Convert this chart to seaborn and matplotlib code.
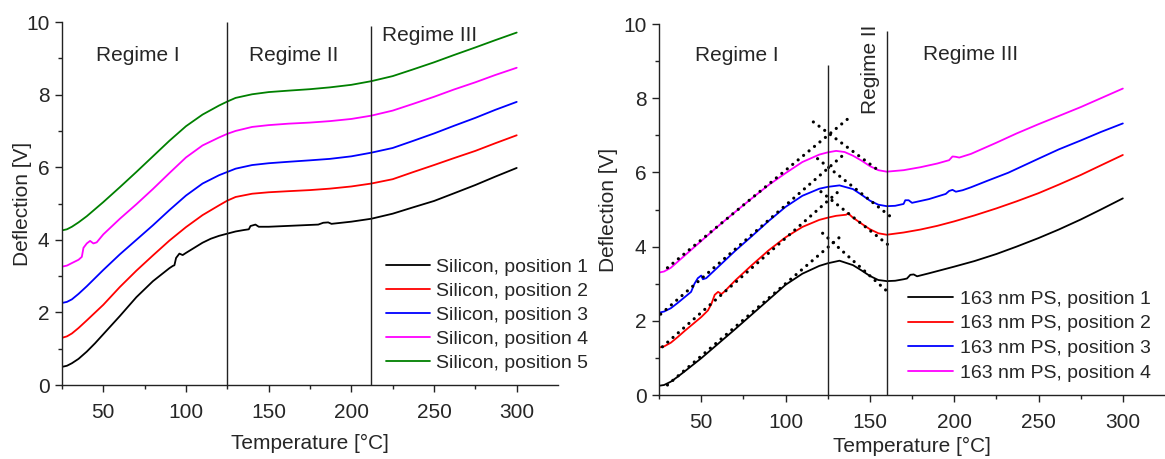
import matplotlib
matplotlib.use("Agg")
import matplotlib.pyplot as plt
import seaborn as sns
import pandas as pd
from matplotlib.ticker import MultipleLocator, FixedLocator

# ---------------- Left panel data (Silicon) ----------------
si_labels = ["Silicon, position 1", "Silicon, position 2", "Silicon, position 3",
             "Silicon, position 4", "Silicon, position 5"]
si1_t = [25, 28, 31, 35, 40, 45, 50, 55, 60, 65, 70, 75, 80, 85, 90, 92, 93, 94, 96, 98, 100,
         105, 110, 115, 120, 125, 130, 135, 138, 139, 142, 144, 150, 160, 170, 180, 183, 186,
         188, 200, 212, 225, 237, 250, 262, 275, 287, 300]
si1_v = [0.50, 0.53, 0.60, 0.72, 0.92, 1.15, 1.40, 1.65, 1.90, 2.16, 2.42, 2.64, 2.86, 3.04,
         3.22, 3.28, 3.30, 3.50, 3.62, 3.58, 3.64, 3.78, 3.92, 4.03, 4.11, 4.17, 4.23, 4.27,
         4.29, 4.38, 4.42, 4.36, 4.36, 4.38, 4.40, 4.42, 4.47, 4.48, 4.44, 4.50, 4.58, 4.72,
         4.89, 5.07, 5.28, 5.51, 5.74, 5.98]
si2_t = [25, 28, 31, 35, 40, 50, 60, 70, 80, 90, 100, 110, 120, 125, 130, 140, 150, 162, 175,
         187, 200, 212, 225, 237, 250, 262, 275, 287, 300]
si2_v = [1.30, 1.34, 1.42, 1.57, 1.78, 2.21, 2.70, 3.15, 3.57, 3.98, 4.35, 4.68, 4.95, 5.08,
         5.18, 5.27, 5.31, 5.34, 5.37, 5.41, 5.47, 5.55, 5.67, 5.86, 6.06, 6.25, 6.45, 6.66,
         6.88]
si3_t = [25, 28, 31, 35, 40, 50, 60, 70, 80, 90, 100, 110, 120, 125, 130, 140, 150, 162, 175,
         187, 200, 212, 225, 237, 250, 262, 275, 287, 300]
si3_v = [2.26, 2.29, 2.36, 2.51, 2.72, 3.17, 3.60, 4.00, 4.40, 4.82, 5.22, 5.55, 5.78, 5.87,
         5.96, 6.06, 6.11, 6.15, 6.19, 6.23, 6.30, 6.40, 6.53, 6.72, 6.93, 7.14, 7.36, 7.58,
         7.80]
si4_t = [25, 28, 31, 35, 37, 38, 40, 42, 44, 46, 50, 60, 70, 80, 90, 100, 110, 120, 125, 130,
         140, 150, 162, 175, 187, 200, 212, 225, 237, 250, 262, 275, 287, 300]
si4_v = [3.26, 3.29, 3.36, 3.45, 3.53, 3.78, 3.90, 3.97, 3.90, 3.93, 4.15, 4.58, 4.98, 5.40,
         5.84, 6.27, 6.60, 6.82, 6.92, 7.00, 7.11, 7.16, 7.20, 7.23, 7.27, 7.33, 7.42, 7.56,
         7.74, 7.94, 8.14, 8.34, 8.54, 8.74]
si5_t = [25, 28, 31, 35, 40, 50, 60, 70, 80, 90, 100, 110, 120, 125, 130, 140, 150, 162, 175,
         187, 200, 212, 225, 237, 250, 262, 275, 287, 300]
si5_v = [4.26, 4.29, 4.36, 4.48, 4.65, 5.04, 5.45, 5.87, 6.30, 6.73, 7.13, 7.45, 7.70, 7.81,
         7.91, 8.01, 8.07, 8.11, 8.15, 8.20, 8.27, 8.37, 8.51, 8.69, 8.89, 9.09, 9.30, 9.50,
         9.71]
si_colors = ["#000000", "#FF0000", "#0000FF", "#FF00FF", "#008000"]
si_bounds = [125, 212]
si_bound_tops = [10.0, 9.9]
si_regimes = ["Regime I", "Regime II", "Regime III"]
si_regime_x = [71, 165, 247.5]
si_regime_y = [9.09, 9.07, 9.64]

# ---------------- Right panel data (163 nm PS) ----------------
ps_labels = ["163 nm PS, position 1", "163 nm PS, position 2", "163 nm PS, position 3",
             "163 nm PS, position 4"]
ps1_t = [25, 28, 32, 36, 40, 50, 60, 70, 80, 90, 100, 110, 120, 125, 132, 140, 145, 150, 155,
         160, 165, 170, 172, 174, 176, 178, 185, 200, 212, 225, 237, 250, 262, 275, 287, 300]
ps1_v = [0.25, 0.27, 0.36, 0.49, 0.63, 0.99, 1.38, 1.77, 2.17, 2.57, 2.97, 3.27, 3.48, 3.55,
         3.62, 3.50, 3.36, 3.21, 3.10, 3.07, 3.08, 3.12, 3.14, 3.24, 3.25, 3.20, 3.28, 3.46,
         3.61, 3.80, 4.00, 4.23, 4.46, 4.73, 5.00, 5.30]
ps2_t = [25, 28, 32, 36, 40, 50, 54, 56, 58, 60, 62, 64, 70, 80, 90, 100, 110, 120, 125, 130,
         136, 137, 140, 145, 150, 155, 160, 170, 180, 190, 200, 212, 225, 237, 250, 262, 275,
         287, 300]
ps2_v = [1.28, 1.31, 1.41, 1.56, 1.72, 2.10, 2.28, 2.45, 2.70, 2.78, 2.72, 2.80, 3.08, 3.50,
         3.90, 4.25, 4.53, 4.72, 4.78, 4.83, 4.86, 4.90, 4.78, 4.62, 4.47, 4.36, 4.32, 4.38,
         4.46, 4.56, 4.68, 4.84, 5.03, 5.22, 5.44, 5.67, 5.93, 6.19, 6.47]
ps3_t = [25, 28, 32, 36, 40, 44, 46, 48, 50, 51, 53, 60, 70, 80, 90, 100, 110, 120, 125, 132,
         140, 145, 150, 155, 160, 165, 170, 171, 173, 175, 185, 195, 197, 199, 201, 205, 210,
         220, 232, 241, 250, 262, 275, 287, 300]
ps3_v = [2.22, 2.25, 2.34, 2.48, 2.63, 2.78, 3.00, 3.15, 3.22, 3.12, 3.15, 3.45, 3.88, 4.28,
         4.69, 5.07, 5.37, 5.56, 5.61, 5.65, 5.55, 5.40, 5.24, 5.13, 5.09, 5.10, 5.15, 5.25,
         5.25, 5.18, 5.28, 5.42, 5.50, 5.53, 5.48, 5.52, 5.60, 5.78, 5.99, 6.18, 6.37, 6.62,
         6.86, 7.09, 7.32]
ps4_t = [25, 28, 32, 36, 40, 50, 60, 70, 80, 90, 100, 110, 120, 125, 130, 135, 140, 145, 150,
         155, 160, 170, 180, 190, 197, 199, 201, 203, 210, 218, 225, 237, 250, 262, 275, 287,
         300]
ps4_v = [3.30, 3.33, 3.43, 3.59, 3.75, 4.15, 4.55, 4.93, 5.30, 5.66, 5.98, 6.28, 6.48, 6.54,
         6.58, 6.55, 6.45, 6.32, 6.17, 6.06, 6.02, 6.06, 6.14, 6.24, 6.33, 6.43, 6.42, 6.40,
         6.50, 6.66, 6.80, 7.05, 7.30, 7.52, 7.76, 8.00, 8.26]
ps_colors = ["#000000", "#FF0000", "#0000FF", "#FF00FF"]
# linear fits (dotted): regime I rising, regime II falling
fitI_x0 = [30, 27, 26, 30]
fitI_y0 = [0.27, 1.30, 2.18, 3.43]
fitI_x1 = [132, 133, 135, 139]
fitI_y1 = [4.25, 5.55, 6.50, 7.52]
fitII_x0 = [122, 121, 119, 116.5]
fitII_y0 = [4.36, 5.48, 6.37, 7.36]
fitII_x1 = [160.6, 161.6, 162.5, 156.7]
fitII_y1 = [2.78, 4.02, 4.80, 6.00]
ps_bounds = [125, 160]
ps_bound_tops = [8.9, 9.8]
ps_regimes = ["Regime I", "Regime III"]
ps_regime_x = [71, 209.6]
ps_regime_y = [9.15, 9.17]
ps_regime2 = "Regime II"
ps_regime2_x = 150.6
ps_regime2_y = 8.78

xlabel = "Temperature [°C]"
ylabel = "Deflection [V]"

# ---------------- Plot ----------------
sns.set_style("ticks")
plt.rcParams["font.family"] = ["Liberation Sans", "DejaVu Sans"]
FS = 15
LFS = 14

fig = plt.figure(figsize=(11.65, 4.59), dpi=100)
axL = fig.add_axes([0.0532, 0.1612, 0.4258, 0.7908])
axR = fig.add_axes([0.5657, 0.1394, 0.4343, 0.8083])


def build_df(ts, vs, labels):
    frames = []
    for t, v, lab in zip(ts, vs, labels):
        frames.append(pd.DataFrame({"T": t, "V": v, "series": lab}))
    return pd.concat(frames, ignore_index=True)


dfL = build_df([si1_t, si2_t, si3_t, si4_t, si5_t],
               [si1_v, si2_v, si3_v, si4_v, si5_v], si_labels)
dfR = build_df([ps1_t, ps2_t, ps3_t, ps4_t],
               [ps1_v, ps2_v, ps3_v, ps4_v], ps_labels)


def style_axes(ax):
    ax.set_xlim(25, 325)
    ax.set_ylim(0, 10)
    ax.xaxis.set_major_locator(FixedLocator([50, 100, 150, 200, 250, 300]))
    ax.xaxis.set_minor_locator(FixedLocator([25, 75, 125, 175, 225, 275]))
    ax.yaxis.set_major_locator(MultipleLocator(2))
    ax.yaxis.set_minor_locator(MultipleLocator(1))
    ax.tick_params(axis="both", which="major", direction="out", length=5, width=1.0,
                   labelsize=FS, color="#222222")
    ax.tick_params(axis="both", which="minor", direction="out", length=2.8, width=1.0,
                   color="#222222")
    ax.tick_params(axis="x", which="major", pad=8)
    ax.tick_params(axis="y", which="major", pad=4)
    for s in ["top", "right"]:
        ax.spines[s].set_visible(False)
    for s in ["left", "bottom"]:
        ax.spines[s].set_linewidth(1.0)
        ax.spines[s].set_color("#222222")
    ax.set_xlabel(xlabel, fontsize=FS, va="center")
    ax.set_ylabel(ylabel, fontsize=FS, va="center")


# Left
sns.lineplot(data=dfL, x="T", y="V", hue="series", palette=si_colors, ax=axL,
             legend=False, estimator=None, sort=False, linewidth=1.3)
style_axes(axL)
axL.xaxis.set_label_coords(0.5, -0.16)
axL.yaxis.set_label_coords(-0.08, 0.5)
axL.vlines(si_bounds, 0, si_bound_tops, colors="#222222", linewidth=1.0)
for txt, x, y in zip(si_regimes, si_regime_x, si_regime_y):
    axL.text(x, y, txt, fontsize=FS, ha="center", va="center")
axL.legend(axL.lines[:5], si_labels, loc="upper left", bbox_to_anchor=(221, 3.49),
           bbox_transform=axL.transData, frameon=False, fontsize=LFS, borderpad=0,
           borderaxespad=0, handlelength=2.27, handletextpad=0.29, labelspacing=0.33)

# Right
sns.lineplot(data=dfR, x="T", y="V", hue="series", palette=ps_colors, ax=axR,
             legend=False, estimator=None, sort=False, linewidth=1.3)
style_axes(axR)
axR.xaxis.set_label_coords(0.5, -0.14)
axR.yaxis.set_label_coords(-0.1, 0.5)
curve_handles = list(axR.lines[:4])
for i in range(4):
    axR.plot([fitI_x0[i], fitI_x1[i]], [fitI_y0[i], fitI_y1[i]], color="black",
             linewidth=2.3, linestyle=(0, (0.01, 2.2)), dash_capstyle="round")
    axR.plot([fitII_x0[i], fitII_x1[i]], [fitII_y0[i], fitII_y1[i]], color="black",
             linewidth=2.3, linestyle=(0, (0.01, 2.2)), dash_capstyle="round")
axR.vlines(ps_bounds, 0, ps_bound_tops, colors="#222222", linewidth=1.0)
for txt, x, y in zip(ps_regimes, ps_regime_x, ps_regime_y):
    axR.text(x, y, txt, fontsize=FS, ha="center", va="center")
axR.text(ps_regime2_x, ps_regime2_y, ps_regime2, fontsize=FS, ha="center", va="center",
         rotation=90)
axR.legend(curve_handles, ps_labels, loc="upper left", bbox_to_anchor=(172.7, 2.83),
           bbox_transform=axR.transData, frameon=False, fontsize=LFS, borderpad=0,
           borderaxespad=0, handlelength=2.3, handletextpad=0.38, labelspacing=0.37)

fig.savefig("out.png", dpi=100)
